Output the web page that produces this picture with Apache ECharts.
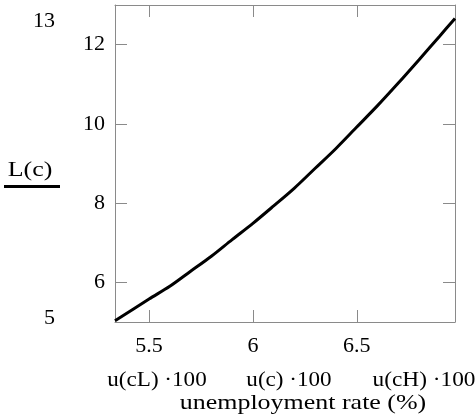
<!DOCTYPE html>
<html>
<head>
<meta charset="utf-8">
<style>
  html, body { margin: 0; padding: 0; background: #fff; }
  #chart { width: 476px; height: 420px; }
</style>
<script src="https://cdn.jsdelivr.net/npm/echarts@6/dist/echarts.min.js"></script>
</head>
<body>
<div id="chart"></div>
<script>
// Unemployment rate (%) and the corresponding L(c)
const unemploymentRate = [5.336, 5.5, 5.6, 5.7, 5.8, 5.9, 6.0, 6.1, 6.2, 6.3, 6.4, 6.5, 6.6, 6.7, 6.8, 6.9, 6.973];
const lValues = [5.03, 5.58, 5.90, 6.28, 6.66, 7.08, 7.49, 7.93, 8.38, 8.88, 9.38, 9.92, 10.46, 11.03, 11.62, 12.22, 12.66];

// Axis ranges and tick labels
const xRange = [5.336, 6.973];
const yRange = [5, 13];
const xTicks = [5.5, 6, 6.5];
const yTicks = [6, 8, 10, 12];
const xMarkers = ['u(cL) ·100', 'u(c) ·100', 'u(cH) ·100'];
const xTitle = 'unemployment rate (%)';
const yTitle = 'L(c)';

const serif = 'Liberation Serif';
const font = '22px "Liberation Serif"';
const frame = '#8a8a8a';

const chart = echarts.init(document.getElementById('chart'));

function frameAxis(extra) {
  return Object.assign({
    type: 'value',
    axisLine: { show: true, onZero: false, lineStyle: { color: frame, width: 1 } },
    splitLine: { show: false }
  }, extra);
}

function ticks(values) {
  return { show: true, inside: true, length: 12, customValues: values, lineStyle: { color: frame, width: 1 } };
}

// free text placed by its centre, optionally stretched horizontally
function label(text, cx, cy, sx, align) {
  return {
    type: 'text', x: cx, y: cy, scaleX: sx || 1,
    style: { text: text, x: 0, y: 0, align: align || 'center', verticalAlign: 'middle', font: font, fill: '#000' }
  };
}

const option = {
  animation: false,
  backgroundColor: '#fff',
  grid: { left: 115, top: 5, right: 21, bottom: 98 },
  xAxis: [
    frameAxis({
      position: 'bottom', min: xRange[0], max: xRange[1],
      axisTick: ticks(xTicks),
      axisLabel: { customValues: xTicks, margin: 13, color: '#000', fontFamily: serif, fontSize: 22 }
    }),
    frameAxis({
      position: 'top', min: xRange[0], max: xRange[1],
      axisTick: ticks(xTicks),
      axisLabel: { show: false }
    })
  ],
  yAxis: [
    frameAxis({
      position: 'left', min: yRange[0], max: yRange[1],
      axisTick: ticks(yTicks),
      axisLabel: { customValues: yTicks, margin: 10, color: '#000', fontFamily: serif, fontSize: 22 }
    }),
    frameAxis({
      position: 'right', min: yRange[0], max: yRange[1],
      axisTick: ticks(yTicks),
      axisLabel: { show: false }
    })
  ],
  series: [{
    type: 'line',
    xAxisIndex: 0,
    yAxisIndex: 0,
    data: unemploymentRate.map((u, i) => [u, lValues[i]]),
    showSymbol: false,
    smooth: 0.3,
    lineStyle: { color: '#000', width: 3 }
  }],
  graphic: [
    // range limits shown at the corners of the y axis
    label(String(yRange[1]), 55, 21, 1, 'right'),
    label(String(yRange[0]), 55, 318, 1, 'right'),
    // y-axis title with its rule
    label(yTitle, 30, 170, 1.18),
    { type: 'rect', shape: { x: 4, y: 185, width: 56, height: 3 }, style: { fill: '#000' } },
    // marker row under the tick labels
    label(xMarkers[0], 157, 380, 1.05),
    label(xMarkers[1], 289, 380, 1.05),
    label(xMarkers[2], 424, 380, 1.06),
    // x-axis title
    label(xTitle, 303, 403, 1.18)
  ]
};

chart.setOption(option);
</script>
</body>
</html>
